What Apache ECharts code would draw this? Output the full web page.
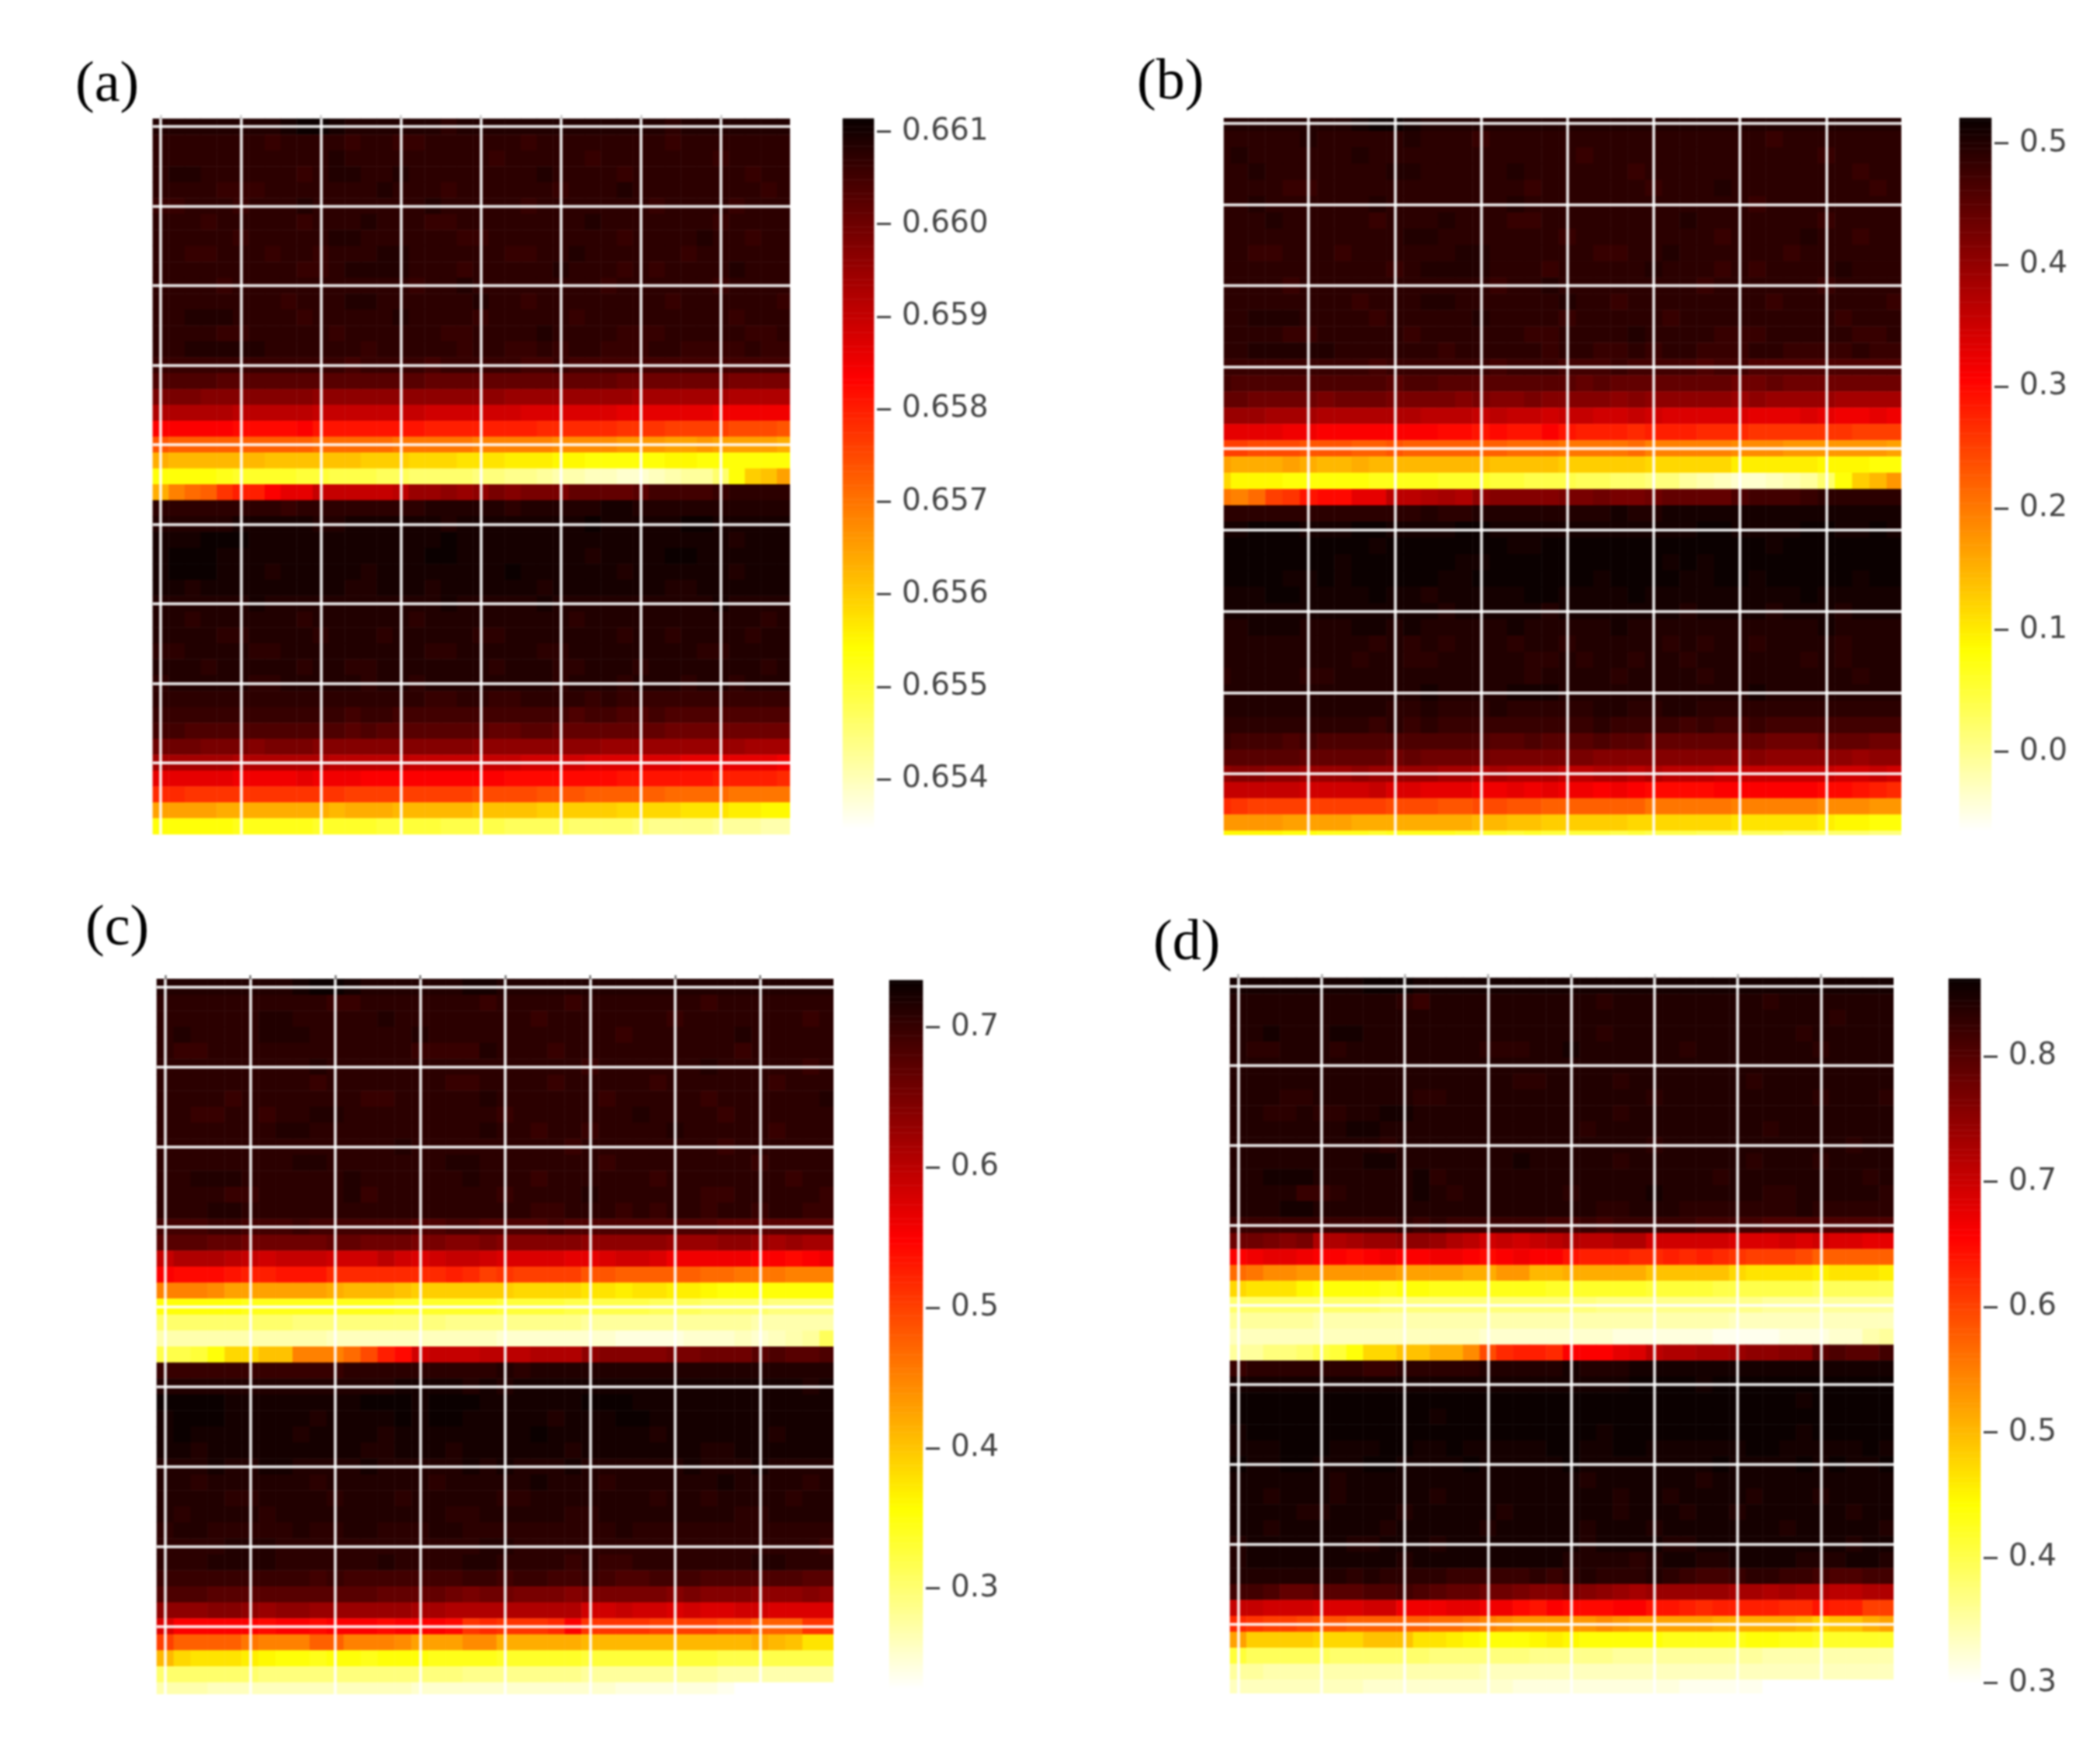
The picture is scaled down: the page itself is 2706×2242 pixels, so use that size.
<!DOCTYPE html>
<html><head><meta charset="utf-8">
<style>html,body{margin:0;padding:0;background:#fff}#c{width:2706px;height:2242px;filter:blur(1.1px)}</style>
<script src="https://cdn.jsdelivr.net/npm/echarts@6/dist/echarts.min.js"></script>
</head><body><div id="c"></div>
<script>
// Each row = 40 cells; each character is the cell's position on the colour bar (0 = bottom/white ... Z = top/black)
const levelChars = '0123456789abcdefghijklmnopqrstuvwxyzABCDEFGHIJKLMNOPQRSTUVWXYZ';
const rowsA = [
'XXXXX XXXYZ ZYXXX XXXWX XXXXX XXXXX XXWXX XXXXX','WWWWW WWVWW WWVWW VVWWW WWWVW WWWWW WWVWW WWWWW','WWWWW WWWWW WXWWW WWWWW WVWWW WWVWW WWWWW VWWWW',
'WXXWW WWWWV WXXWW XWWWW WWWWX WWWWV WWWWW WWVWW','WWWWV VVWWW WWWWX WWWVW WWWWW VWWWX WWWWW WWWVW','VVWWW VWWWX WWWWW WWXWW WWWVW WWWWW WVWWW WVWWW',
'WWWVW WWWWV WWWXW WWVVW WWWWW WWXWW WWWWW VWWWW','WWWWW VWWWW WXXWW WWWWV VWWWW WWWWV WWWWX WWVWW','WWVVW WWVWW VWWWX XWWWW WWVVW WXWWW WWWVW WWWWW',
'WWWWW WWWWV VWXXX XWWWV WWWWW XWWWV WVWWW WXWWW','WWWWV WWWWW WWWWW WVWWX WWWWW WWWVW WWWWW VWWWW','WWWWW WWWVW WWXXW WWWWW XWWVW WWWWW WWVWW WWWWV',
'WWXXX WWWWV WWWWW XWWWW VWWWW WVWWW WWWWW WVWWW','WWWWV VWWWW WVWWW WWWVV WWWWX WWWWV VVWWW WWVVW','WWXXX XXWWW WWWVW WWWWV WWVVW VWWVV VWWVV VVWVV',
'VVVVV VVVVV VVUVV VVUVV VVVUU VUUUU UUUUU UUUUU','TTTTS SSSSS SSSSS SSRRR RRRRR RRRRQ QQQQQ QPPPP','PPPOO OOOOO NNNNN NNNNN NNMMM MMMMM LLLLL LKKKK',
'KKKKK JJJJJ IIIII IIHHH HHHGG GGGGF FFFFF EEEEE','DDDDD CCCCD BBBBB BBAAA AAAAz zzzzy yyxxx xwwwv','vuuuu uuuuu ttttt sssss rrrrr qqqqp ppoop oooon',
'nmmmm mmlll lllkk kjjji iihhh ggfff ffggf fffff','ffffe ddddc cbbba a9999 88776 55443 34566 9fklo','nrtuy AADFF IIIII JMMNM NPOPP PRRRR SUUUU VWWWW',
'WWWWW WWWVW WWWWW WWXXX XXWXX XXXYY XXXXX XXXXX','XXXXX YYYYY XXYYY YYYXY YYYYY YYZYY YYYZZ YYYYY','YYYZZ ZYYYY YYYYY YYYZY YYYYY YYYYY YYYYY YXYYY',
'YZZZY YYYYY YYYYY YYZZY YYYYY YYXYY YYZZY YYYYY','YZZZY YYXYY YYYXY YYYYY YYZYY YYYYX YYYYY YXYYY','YYXYY YYYYY YYXXY YYXYY YYYYX YYYYY YYXXY YYYYY',
'XXXXX XYXXX XXXXX XXXYX XXXXY XXXXX XXXXX YXXXX','XXWXX XXXXW XXXXX XWXXX XXXXX XWXXX XXXXX XXXWX','XXXXW WXXXX WXXXW XXXXX WWXXX XXXXW XXWXX XXWXX',
'WWXXX XWWXX XXXXX XXWWX XXXXW WXXXX XXXXW WXXXX','XXXWX XXXXW XXWWX XXXXX XWXXX WWXXX WXXXX XXXWX','WXXXX XWWXX XXXWX XWXXX XXXXX WXXXW XXXWX XWXXX',
'WWWWW WWWWW WWWWW WWVVW WVVWW WWVWV VVVVV VVVVV','VVVVV VVVVV VVUVV UUUUU UUUUU UTUUT TUTTT TTTTT','UUTTT TTTTT TTSTS SSSSS SRRSS RRRRR RRQQQ QQQQQ',
'QQQPP POPPP OOOOO OOOOO NNNNN NNNMM MMMMM MMLLL','LLLLL KKKKK KJJJJ JIIII IIIHH HHGGG GGGFF FFFFE','FFFFF EEEEF EEEDD DDDDD DDCCC CCCCB BBBBB AAAAz',
'zzyyy yyyyy yyxxx xxxxx wwwwv vvuuu uuttt tssss','oooon nnnnn nmnnn mmmmm llllk kkkkj jjjii ihhgg','fffff eeeee ddddc cccbb bbaaa a9999 87777 66655'];
const rowsB = [
'XXXXX XXXYZ ZYXXX XXXXX XXXXX XXXXX XXXXX XXXXX','WWWWW XWWWW WXWWW VWWWW WWWWW WWWWW WWVWW WWWWW','WXWWW WWWXW WWWWW WWWWW WVWWW WWWWW WWWWW VWWWW',
'WWXWW WWWWW XXWWW WWXWW WWWWV WWWWW WWWWW WWVWW','WWWWV VWWWW WWWWW WWWVW WWWWW VWWWX WWWWW WWWVW','WWXWW WWWWX WWWWW WWXWW WWWWW WWWWW WVWWW WWWWW',
'WWWXW WWWWV WWWXW WWVVW WWWWW WWXWW WWWWW VWWWW','WWWWW WWWWW WXXWW WWWWW VWWWW WWWWV WWWWX WWVWW','WWVVW WWVWW WWWWX XWWWW WWVVW WXWWW WWWVW WWWWW',
'WWWWW WWWWW VWXXX XWWWV WWWWW XWWWV WVWWW WXWWW','WWWWV WWWWW WWWWW WVWWX WWWWW WWWVW WWWWW VWWWW','WWWWW WWWVW WWXXW WWWWW XWWVW WWWWW WWVWW WWWWV',
'WWXXX WWWWV WWWWW XWWWW VWWWW WVWWW WWWWW WVWWW','WWWWV VWWWW WVWWW WWWVV WWWWX WWWWV VVWWW WWVVW','WWXXX XXWWW WWWVW WWWWV WWVVW VWWVV VWWVV VVWVV',
'VVVVV VVVVU VVVVV VUVVV UUUVU UUUTU UTTTT TTTTT','UTTTT TTTTT STTSS SSSSS SRSRR RRRRR QQRQQ QQQQQ','RRQQQ QPQQQ PPPPO POOPO OOONO NNNNN MNMMM MLLLL',
'MMMLL LKKKK KKJJJ IJIIH IIHHI HGGGG GFFFG FEEFE','FFFFE EDDDD DDDCC BCBBD BAAAz AAAzz zyyyy yyxxx','xxwww vvvuu vuuuu uuttt sssst rrrrr qqqpp ppppo',
'onnno nmmnm mmmmm mllll kkkkk jjjjj hhhhh gggff','jgggf ffffe eeedd dccbb baa99 88654 33456 9fkmp','srtxy BCCFF JJKLK NOOOO PPQPP QRRRR TUUUV WWWWW',
'WWWWW WWWWW WWXWW XXXXX XXXYX XYYYY YYYYY YYYYY','YYZZZ YYYZZ YYYYZ ZYYYY YYYYY YYYZZ YYYYZ ZYYZY','ZZZZZ ZZZZY ZZZZZ ZZYYZ ZZZZZ ZZZZZ ZZYZZ ZZZZZ',
'ZZZZZ ZZYZZ ZZZZY YZZZZ ZZZZZ ZYZYZ ZZZZZ ZZZZZ','ZZZZY YZYZZ ZZZYY ZZZZZ ZZYZZ ZZYYZ ZYZZZ ZZYZZ','YYYZZ YYYYZ YYXYY YYYZZ YYYYZ YYYYY YYYYZ YYYYY',
'YYYYY YYYYY YYYXY YYYYX YYYYY YYXYY YYXYY YXYYY','XXYYY XXXYY XYXXX XXYXX XXXYX XXXXX XXXXX YXXXX','XXXXX XXXXW XWXWX XXWXX WXXXX XWXWX XWXXX XWXXX',
'XXXXX XXXWX XWWXX XXXWW XWXXW XXWXX XXXXW XWXXX','WXXXX WWXXX XXXXX XXXWX XXXWX XXXWX XXXXX XXWXX','XXXXX XXXXX XXYXX XXYYY XXXXX XXXXX XYXXX XXXXX',
'XXXXX XXXXX WWXWW WXWWW WWXXW WXXWW WWWWW WWWWW','WWWWW WWWWV WVWVV VVVVV VVWVV VVUVU UVUUU UUUUU','VUUUT UTTTT TTTTT TSSTS SSTSS RRRRR RRQQQ RRRQQ',
'SSSSS RRRRR QRQQQ QPPPP PPOOO OOOOO NONNN NNMNN','NOONN MMMNM MMMLL KLKKK JJKKJ KJJJI IIIII IHHIH','IIIII HHHHI GGFFF EEFEF EEDED CCCCD DDDDD CCBAz',
'zyxxx xxxxx wwwvv wwvvu uuuuu sssss rrrrr qqqpp','ppppo ooonn nnnnn mmllk kkkkj jjjjj iiiii hggff','ggggf feeed eeeed ddcdc cccbc bbbaa aaa99 99988'];
const rowsC = [
'XXXXX XXXYZ ZYXXX XXXYY XXXXX XXXXX XXXXX XXXXX','WWWWW WWWWW VVWWW WWWWV WWWWV WWWWW WWVWW WWWWW','WWWWW WXXWW WWWXW WWWWW WWVWW WWWWW VWWWW WWWVW',
'WXWWW WXXXW WWWWW XWWWW WWWWW WWVWW WWWWX WWWWW','WVVWW WWWWW WWWWW VVVVX WWWVW WWWWW WWWWV WWWWW','WWWWW WWWWX WWWWW WWWWW WWWWW VWWWW WWXWW WWWVW',
'WWWWW WWWWV WWWWW WWVVW WWWVW WWWWV WWWWW WVWWW','WWWWV WWWWW WWVVW WWWWX WWWWW WVWWW WWVWW WWWWX','WWVVW WVWWX XWWWW WWWWW VWWWW WWWXW WWWVW WWWWW',
'WWWWW WWXXW WWWWW WWWWX WWVWW VWWWW XWWWW WVWWW','WWWWW WWWWW WWWWX WWWWW WWWWV WWWWW WWWVW WWWWW','WWWWW WWWXX WWWWW WWXXW WWWWW WVWWW WWWWW VWWWW',
'WWXXX WWWWW WXWWW WWWXW WWVWW WWWWV WWWWW WWVWW','WWWWV VWWWW WXVWW WWWWW VWWWW XWWWW WWVVW WWWWV','WWWXX WWWWW WWWWW WWWWW WWVVW WWVWV WWVWW VWWVV',
'UUUVV UUUVU UUUUU TTUUT TTTUT TTTTT TTTSS SSSSS','SSSRR QQQQQ RRQQQ PPOOP OOOOO NNNNN MMMNN MLMLL','IKKKJ IHIII HHHJH GHIIH GGGGF FGHHG EEEEE DDCDE',
'DCCCB AABBB zzzzz zzAzx yxxxx vvuuu uutts ssrrr','rrrqo ooooo nmmml kkkkk kjjjj iihii hhgff fffff','fffff eeeee eeeed ddddd ccccb bbbba aa999 98888',
'99999 99988 88888 88777 77777 66666 66666 55555','55555 55555 44444 44444 33333 33222 23334 3456a','bbcfj jllrr rtwAC HIIIJ JJKKK NOOOO PPQQQ STSST',
'VVVVV VVVVV VWWWW WWWWW XWXXX XXXXX XXXXX XXXXX','XXXXX XXXXX XXXXY YYYXY XYYYY YYYYY YYYYY YYYXY','ZZZZY YYYYY YYZZZ YZZZY YYYYY ZZZYY YYYYY YYYYY',
'YZZZY YYYYX YYYYZ YZZYY YYYXY YYZZY YYYYY YYYYY','YZYYY YYYXY YYYXY YYYYY YYZYY YYYYX YYYYY YXYYY','YYXYY YYYYY YYXXY YYXYY YYYYX YYYYY YYXXY YYYYY',
'XXXYX XYYXX XXYXX XXXYX YXXXY XXXXX XYXXX YXXXX','XXWXX XXXXW XXXXX XWXXX XXYXX XWXXX XXXYX XXXWX','XXXXW WXXXX WXXXW XXXXX WWXXX XXXXW XXWXX XXWXX',
'XWXXX XWXXX XXXXX XXWWX XXXXW WXXXX XXXXW WXXXX','WXXWW WWWXW WXXWW WXXWW WWWWW WWXWW WWWWW WWWWW','WWWWX XXWWW WWWWW WWWWX XWWWW WWWWW WWWWW WWWWV',
'WWWXX XXWWW WWWXW WWWXX WWWWV WVVWW WWWWW XXWWW','VVVVV VVVVU VUUUU UUUVV UVVUU VUTTU UUTTT TTTSS','TTTSS SSSSS SSSRR RRQPQ QPPPO PPPPP OPOOO NNNON',
'NNNOO NMNNM MMMMM LLKKK KKKKK HHIHH GHGGH HGGGG','GDDDD DCDDC DDDCD DDCyz yyyzD yyyyx xxxww uuuyy','xuuuu srrru urrrq oooqq nnnnn mmmmm mmmmm nmlii',
'mjiii hgffe ffeff feeee ddddd ccccc cccbb bbbbb','99999 98888 88888 88877 77777 66666 66655 55555','55544 44444 44444 33333 33333 33222 22210 00000'];
const rowsD = [
'YYYYY YYYZZ ZYYYY YYYYY YYYYY YYYYY YYYYY YYYYY','XXXXX XXXXX WVXXX XXXXX XXWXX XXXXX XXWXX XXXXX','XXXXX XXXXX XXXXX XXXXX XXXXX XXXXX XXXXX XWXXX',
'XXYXX XYYXX XXXXX XXXXX XXWXX XXXXX XXXXW XXXXX','XWWXX XWXXX XXXXX WWWXX YXXXX XXWXX XXXXX WXXXX','XXXXX XXXXX XXXXX XXXXX XXXXX XXXXX XXXXX XXXXX',
'XXXXX XXXXX XXXXX XXWWX XXXWX XXXXX XWXXX XXXXX','XXXWW XXXXX XWWXX XXXXX XXXXX WXXXX XXXXX WXXXW','XXWWX WWXXY YXXXX XXXXX XXXWX XXXXX XXXXX XXXXX',
'XXXXX XXYYX XXXXX XXXXX XWXXX XXXXX XXWXX XXXXX','XXXXX XXXXW XXXXX XXXXX XXXXX WXXXX XXXXX XXWXX','XXXXX XXXYY XXXXX XXYXX XXXWX XXXXX XWXXX WXXXX',
'XXYYY XXXXX XYWXX XXXXX XXXXX XXXXW XXXXX XXXWX','XXXXV VWXXX XYXWX XXXXX WXXXX YXXXX XXWWX XXXXW','XXXYY XXXXX XXXXX XXXXX XXWWX XXWWW WWWWX WWWWW',
'VVVVV VVVVV WVWVV VVVVU UVUVV VVVUU UUTTT TTTTT','QQPOP KKLMM NNMKJ HIHIJ KJJKK HHHHH GGGHG HGGFF','DEFFE DDCDE DDEED CDEDD BAAAz zAzAz yxxxw uuuuu',
'tsqqp ppppp oooon nppmm nnnnn lllll jiiii hiiih','jiiig ffffe ffeee eeeed ddddd ccccb bbbbb aaaaa','99999 99998 88888 88888 88777 77777 77666 66666',
'66666 55555 55555 55555 55555 55555 44444 44444','44444 44444 44444 33333 33322 22221 11122 23356','66889 bcfjj llnnq wzAAz DDDFG JKKLL MNNOO STSSU',
'VWWWW WWWVV WWWWW XXXXX YXXXY YYYYY YYYYY YYYYY','YYYYY YYYYY YYYYY YYYYY YYYYZ ZZZYZ ZZZZZ ZZZZZ','ZZZZZ ZZZZZ ZZZZZ ZZZZZ ZZZZZ ZZZZZ ZZZZY ZZZZZ',
'ZZZZZ ZZZZZ ZZYZZ ZZZZZ ZZZZZ ZZZZZ ZZZZZ ZZZZZ','YZZZZ ZZZZZ ZZZZZ ZZZZZ ZZYZZ ZZZZZ ZZZZY ZZZZZ','YYYZZ ZYYYZ ZYYZY YYYYZ ZYYZZ YYYYY YZZYY YYYZY',
'ZYYZZ YYYZZ YYYYZ YYYYY ZYYYY YYYYZ YYYYZ YZYYZ','YYYYY YXYYY YYYYY YYYYY YXYYY YYYXY YYYYY YYYYY','YYXYY YXYYY YYXYY YYYYY YYYXY YXYYY YXYYY XYYYY',
'YYYYX XYYYY XYYYY YXYYY YYYXY YYXYY XYYYY YYXYY','YYXYY YYYYX YYYYY XYYYY YXYYY XYYYY YYYXY YYYYX','XYYYY YYXXY YYXYY YYYYY YXYYY YXXYY YYYYY YYXYY',
'XYYYY YYYYY XYYYY YYYYY XXXXW XYYXX YYYYX XXYYX','XXXXX XXWXW WWWVV VVVWV WXWWW XWVUU VWWVV UTTUU','UUTRR SSSTT UTSRR QQPOO PONML MMMMM LLKLK KJJKK',
'IIHHH GGGHH EEEFF EECBD CCCDD BBAzA AAAzz BAAxx','zyxxw vvuuu uutts rqppp ppqpo oooon nnnnm kllno','okkkk jjjll liihg fffgh gffff feeee effee ddddd',
'caaaa a9999 99888 88877 77766 66666 66555 55555','66555 55555 55555 44444 44444 44444 44444 44444','44444 44433 33333 33222 22222 22111 11000 00000'];

const rangeA = [0.65345, 0.66114], ticksA = [0.654, 0.655, 0.656, 0.657, 0.658, 0.659, 0.660, 0.661];
const rangeB = [-0.0667, 0.5207], ticksB = [0.0, 0.1, 0.2, 0.3, 0.4, 0.5];
const rangeC = [0.2273, 0.7334], ticksC = [0.3, 0.4, 0.5, 0.6, 0.7];
const rangeD = [0.2985, 0.8618], ticksD = [0.3, 0.4, 0.5, 0.6, 0.7, 0.8];
const labels = ['(a)', '(b)', '(c)', '(d)'];
const decimals = [3, 1, 1, 1];
const majorEvery = 5;

// matplotlib hot_r
function hotR(t) {
  const h = 1 - t;
  const r = Math.min(1, 0.0416 + h * (1 - 0.0416) / 0.365);
  const g = Math.max(0, Math.min(1, (h - 0.365) / 0.381));
  const b = Math.max(0, Math.min(1, (h - 0.746) / 0.254));
  return 'rgb(' + [r, g, b].map(v => Math.round(v * 255)).join(',') + ')';
}
const hotColors = Array.from({length: 128}, (_, i) => hotR(i / 127));

const layouts = [
  {x: 196.9, y: 153, w: 825, h: 922, bx: 1086, by: 152.7, bw: 40, bh: 917, tickColor: '#d8d8d8', lx: 97, ly: 110.5,
    covers: [[1018, 145, 12, 940]]},
  {x: 1563.9, y: 148, w: 889.6, h: 943.6, bx: 2525, by: 152, bw: 41, bh: 921, tickColor: null, lx: 1465, ly: 107.5,
    covers: [[1550, 140, 26, 960], [1550, 140, 920, 12], [1550, 1076, 920, 24], [2450, 140, 12, 960]]},
  {x: 202, y: 1261.4, w: 876, h: 927, bx: 1146, by: 1263, bw: 43, bh: 915, tickColor: '#8a8a8a', lx: 110, ly: 1197.5,
    covers: [[1074, 1255, 12, 945], [195, 2183, 890, 14]]},
  {x: 1585, y: 1260, w: 858, h: 925, bx: 2511, by: 1261, bw: 41, bh: 910, tickColor: '#bdbdbd', lx: 1486, ly: 1216.5,
    covers: [[2440, 1255, 12, 940], [1580, 2182, 870, 10]]}
];

const allRows = [rowsA, rowsB, rowsC, rowsD];
const allRanges = [rangeA, rangeB, rangeC, rangeD];
const allTicks = [ticksA, ticksB, ticksC, ticksD];
const colCats = Array.from({length: 40}, (_, i) => String(i));
const rowCats = Array.from({length: 45}, (_, i) => String(i));
const barCats = Array.from({length: 256}, (_, i) => String(i));
const fontFamily = '"DejaVu Sans"';
const textColor = '#444';

const option = {backgroundColor: '#fff', animation: false, grid: [], xAxis: [], yAxis: [], series: [], visualMap: [], graphic: []};
const lineStyle = {color: 'rgba(255,255,255,0.85)', width: 4, type: 'solid'};

allRows.forEach((rows, p) => {
  const L = layouts[p], range = allRanges[p];
  const toValue = lvl => range[0] + (lvl / 61) * (range[1] - range[0]);
  const heat = [];
  rows.forEach((row, r) => {
    row.replace(/ /g, '').split('').forEach((ch, c) => {
      heat.push([c, r, +toValue(levelChars.indexOf(ch)).toFixed(5)]);
    });
  });
  const g = option.grid.length;
  option.grid.push({left: L.x, top: L.y, width: L.w, height: L.h});
  option.grid.push({left: L.bx, top: L.by, width: L.bw, height: L.bh});
  // thin grid that only carries the colour bar's tick labels, 4px to the right of the bar
  option.grid.push({left: L.bx + L.bw + 3, top: L.by, width: 1, height: L.bh});
  option.xAxis.push({type: 'category', gridIndex: g, data: colCats, position: 'top', boundaryGap: true,
    axisLine: {show: false}, axisLabel: {show: false}, splitLine: {show: false},
    axisTick: {show: !!L.tickColor, alignWithLabel: true, interval: majorEvery - 1, length: 5, lineStyle: {color: L.tickColor || '#fff', width: 3}}});
  option.xAxis.push({type: 'category', gridIndex: g + 1, data: ['0'], show: false});
  option.xAxis.push({type: 'category', gridIndex: g + 2, data: ['0'], show: false});
  const yHeat = option.yAxis.length;
  option.yAxis.push({type: 'category', gridIndex: g, data: rowCats, inverse: true, show: false});
  option.yAxis.push({type: 'category', gridIndex: g + 1, data: barCats, show: false});
  const dec = decimals[p];
  option.yAxis.push({type: 'value', gridIndex: g + 2, position: 'right', min: range[0], max: range[1],
    axisLine: {show: false}, splitLine: {show: false},
    axisTick: {show: true, length: 18, customValues: allTicks[p], lineStyle: {color: textColor, width: 3}},
    axisLabel: {show: true, customValues: allTicks[p], margin: 32, fontSize: 39, fontFamily, color: textColor, formatter: v => (+v).toFixed(dec)}});
  const markData = [];
  colCats.forEach((c, i) => { if (i % majorEvery === 0) markData.push({xAxis: c}); });
  rowCats.forEach((c, i) => { if (i % majorEvery === 0) markData.push({yAxis: c}); });
  const sHeat = option.series.length;
  option.series.push({type: 'heatmap', xAxisIndex: g, yAxisIndex: yHeat, data: heat, progressive: 0, silent: true,
    itemStyle: {borderWidth: 0},
    markLine: {silent: true, symbol: 'none', animation: false, label: {show: false}, lineStyle, data: markData}});
  option.series.push({type: 'heatmap', xAxisIndex: g + 1, yAxisIndex: yHeat + 1, progressive: 0, silent: true,
    data: barCats.map((c, i) => [0, i, range[0] + (range[1] - range[0]) * i / 255])});
  option.visualMap.push({type: 'continuous', show: false, min: range[0], max: range[1], dimension: 2,
    seriesIndex: [sHeat, sHeat + 1], inRange: {color: hotColors}});
  L.covers.forEach(cv => option.graphic.push({type: 'rect', z: 50, silent: true,
    shape: {x: cv[0], y: cv[1], width: cv[2], height: cv[3]}, style: {fill: '#fff'}}));
  option.graphic.push({type: 'text', z: 60, silent: true, x: L.lx, y: L.ly,
    style: {text: labels[p], fontFamily: '"Liberation Serif"', fontSize: 74, fill: '#000', verticalAlign: 'middle', align: 'left'}});
});

echarts.init(document.getElementById('c'), null, {renderer: 'canvas'}).setOption(option);
</script></body></html>
